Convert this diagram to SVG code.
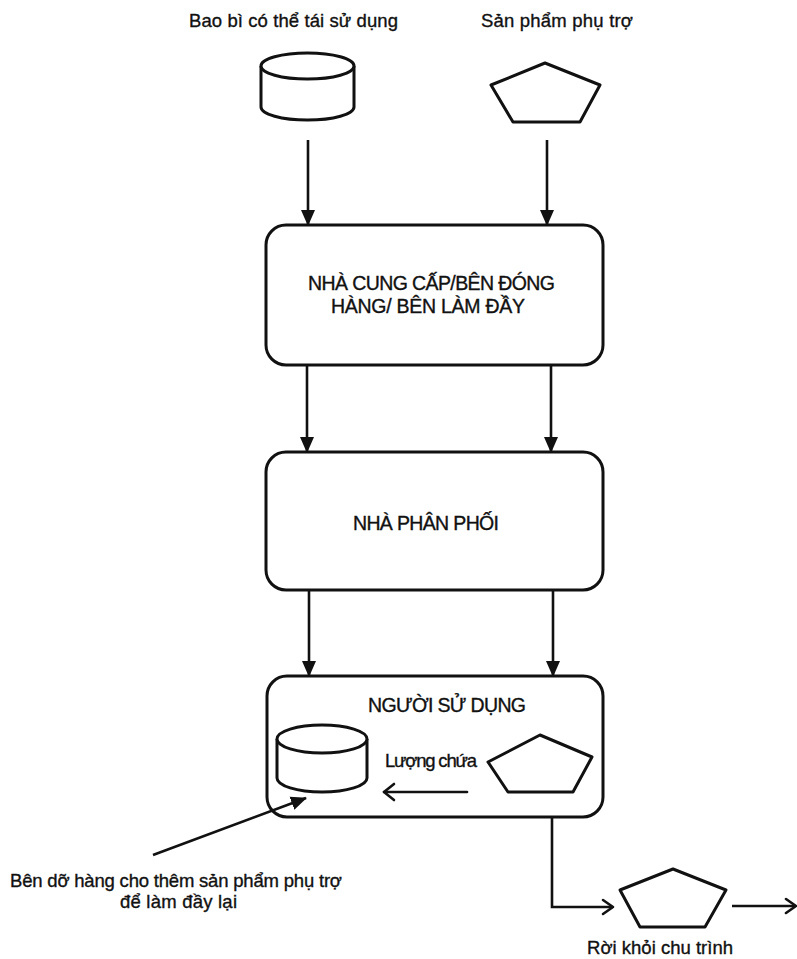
<svg xmlns="http://www.w3.org/2000/svg" width="797" height="959" viewBox="0 0 797 959">
  <defs>
    <style>
      .txt { font-family: "Liberation Sans", Arial, sans-serif; fill: #111; stroke: #111; stroke-width: 0.35; }
      .lbl { font-size: 18.5px; }
      .box-txt { font-size: 19.5px; }
      .box { fill: #fff; stroke: #111; stroke-width: 3; }
      .shape { fill: #fff; stroke: #111; stroke-width: 3; stroke-linejoin: round; }
      .edge { fill: none; stroke: #111; stroke-width: 2.6; }
      .open { fill: none; stroke: #111; stroke-width: 2.6; stroke-linecap: round; stroke-linejoin: round; }
    </style>
    <marker id="arrow" markerUnits="userSpaceOnUse" markerWidth="16" markerHeight="16" viewBox="0 0 16 16" refX="15" refY="8" orient="auto">
      <path d="M0,1 L16,8 L0,15 Z" fill="#111"/>
    </marker>
  </defs>

  <rect width="797" height="959" fill="#fff"/>

  <!-- source: reusable packaging -->
  <g id="packaging">
    <text class="txt lbl" x="189" y="27" textLength="209" lengthAdjust="spacing">Bao bì có thể tái sử dụng</text>
    <path class="shape" d="M261,66 L261,107 A46.5,13 0 0 0 354,107 L354,66"/>
    <ellipse class="shape" cx="307.5" cy="66" rx="46.5" ry="13"/>
  </g>

  <!-- source: auxiliary product -->
  <g id="aux-product">
    <text class="txt lbl" x="481" y="27" textLength="152" lengthAdjust="spacing">Sản phẩm phụ trợ</text>
    <polygon class="shape" points="545,63 600,85 580,122 513,122 491,85"/>
  </g>

  <!-- supplier / packer / filler -->
  <g id="supplier">
    <rect class="box" x="266" y="225" width="337" height="140" rx="20" ry="20"/>
    <text class="txt box-txt" x="308" y="290" textLength="247" lengthAdjust="spacing">NHÀ CUNG CẤP/BÊN ĐÓNG</text>
    <text class="txt box-txt" x="331" y="313" textLength="194" lengthAdjust="spacing">HÀNG/ BÊN LÀM ĐẦY</text>
  </g>

  <!-- distributor -->
  <g id="distributor">
    <rect class="box" x="266" y="452" width="337" height="138" rx="20" ry="20"/>
    <text class="txt box-txt" x="353" y="530" textLength="146" lengthAdjust="spacing">NHÀ PHÂN PHỐI</text>
  </g>

  <!-- user, holding packaging and product -->
  <g id="user">
    <rect class="box" x="267" y="676" width="336" height="141" rx="20" ry="20"/>
    <text class="txt box-txt" x="368" y="712" textLength="158" lengthAdjust="spacing">NGƯỜI SỬ DỤNG</text>
    <path class="shape" d="M277,739 L277,778 A45,14 0 0 0 367,778 L367,739"/>
    <ellipse class="shape" cx="322" cy="739" rx="45" ry="14"/>
    <polygon class="shape" points="540,735 592,757 573,792 508,792 488,762"/>
    <text class="txt lbl" x="385" y="767" textLength="92" lengthAdjust="spacing">Lượng chứa</text>
    <line class="open" x1="467" y1="792" x2="384" y2="792"/>
    <polyline class="open" points="394,784 384,792 394,800"/>
  </g>

  <!-- product leaving the cycle -->
  <g id="exit-product">
    <polygon class="shape" points="673,869 726,890 705,927 640,927 620,890"/>
    <text class="txt lbl" x="587" y="954" textLength="146" lengthAdjust="spacing">Rời khỏi chu trình</text>
  </g>

  <!-- refill note -->
  <g id="refill-note">
    <text class="txt lbl" x="10" y="887" textLength="332" lengthAdjust="spacing">Bên dỡ hàng cho thêm sản phẩm phụ trợ</text>
    <text class="txt lbl" x="120" y="908" textLength="117" lengthAdjust="spacing">để làm đầy lại</text>
  </g>

  <!-- connectors -->
  <g id="connectors">
    <line class="edge" x1="308" y1="140" x2="308" y2="225" marker-end="url(#arrow)"/>
    <line class="edge" x1="547" y1="140" x2="547" y2="225" marker-end="url(#arrow)"/>
    <line class="edge" x1="307" y1="366" x2="307" y2="452" marker-end="url(#arrow)"/>
    <line class="edge" x1="551" y1="366" x2="551" y2="452" marker-end="url(#arrow)"/>
    <line class="edge" x1="309" y1="591" x2="309" y2="676" marker-end="url(#arrow)"/>
    <line class="edge" x1="553" y1="591" x2="553" y2="676" marker-end="url(#arrow)"/>
    <line class="edge" x1="153" y1="855" x2="306" y2="798" marker-end="url(#arrow)"/>
    <polyline class="edge" points="552,817 552,907 612,907"/>
    <polyline class="open" points="603,900 613,907 603,914"/>
    <line class="edge" x1="732" y1="906" x2="795" y2="906"/>
    <polyline class="open" points="786,899 796,906 786,913"/>
  </g>
</svg>
